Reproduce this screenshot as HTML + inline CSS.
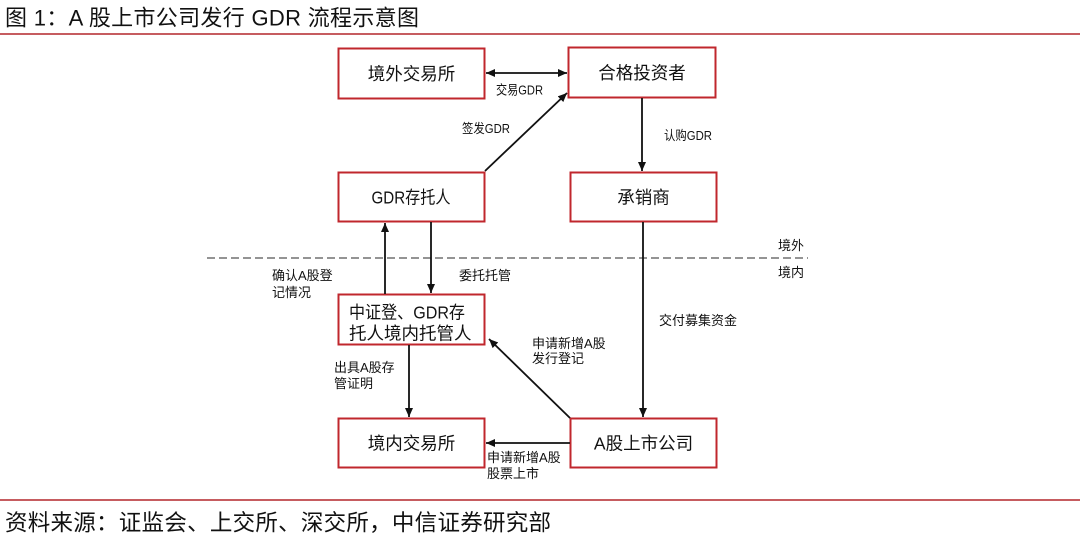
<!DOCTYPE html>
<html>
<head>
<meta charset="utf-8">
<style>
  html,body{margin:0;padding:0;background:#fff;}
  svg{display:block;}
  text{font-family:"Liberation Sans","Noto Sans CJK SC",sans-serif;fill:#111;}
</style>
</head>
<body>
<svg width="1080" height="542" viewBox="0 0 1080 542" xmlns="http://www.w3.org/2000/svg">
  <defs>
    <marker id="ah" markerUnits="userSpaceOnUse" markerWidth="10" markerHeight="8" refX="9" refY="4" orient="auto">
      <path d="M0,0 L9,4 L0,8 z" fill="#111"/>
    </marker>
    <marker id="ahs" markerUnits="userSpaceOnUse" markerWidth="10" markerHeight="8" refX="9" refY="4" orient="auto-start-reverse">
      <path d="M0,0 L9,4 L0,8 z" fill="#111"/>
    </marker>
  </defs>

  <!-- Title -->
  <text x="5" y="25.5" font-size="22" textLength="414" lengthAdjust="spacing">图 1：A 股上市公司发行 GDR 流程示意图</text>
  <line x1="0" y1="34" x2="1080" y2="34" stroke="#b3262c" stroke-width="1.6"/>

  <!-- Dashed border line -->
  <line x1="207" y1="258" x2="808" y2="258" stroke="#555" stroke-width="1.3" stroke-dasharray="8,4"/>
  <text x="778" y="250" font-size="13">境外</text>
  <text x="778" y="277" font-size="13">境内</text>

  <!-- Boxes -->
  <g fill="#fff" stroke="#c0272d" stroke-width="2">
    <rect x="338.5" y="48.5" width="146" height="50"/>
    <rect x="568.5" y="47.5" width="147" height="50"/>
    <rect x="338.5" y="172.5" width="146" height="49"/>
    <rect x="570.5" y="172.5" width="146" height="49"/>
    <rect x="338.5" y="294.5" width="146" height="50"/>
    <rect x="338.5" y="418.5" width="146" height="49"/>
    <rect x="570.5" y="418.5" width="146" height="49"/>
  </g>

  <!-- Box labels -->
  <g font-size="17.5" text-anchor="middle">
    <text x="411.5" y="80">境外交易所</text>
    <text x="642" y="79">合格投资者</text>
    <text x="411" y="203.5" textLength="79" lengthAdjust="spacingAndGlyphs">GDR存托人</text>
    <text x="643.5" y="203.5">承销商</text>
    <text x="411.5" y="449.5">境内交易所</text>
    <text x="643.5" y="449.5">A股上市公司</text>
  </g>
  <text x="349" y="318.5" font-size="17.5" textLength="116" lengthAdjust="spacingAndGlyphs">中证登、GDR存</text>
  <text x="349" y="339.5" font-size="17.5">托人境内托管人</text>

  <!-- Connectors -->
  <g stroke="#111" stroke-width="1.8" fill="none">
    <line x1="486" y1="73" x2="567" y2="73" marker-start="url(#ahs)" marker-end="url(#ah)"/>
    <line x1="485" y1="171" x2="567" y2="93" marker-end="url(#ah)"/>
    <line x1="642" y1="98" x2="642" y2="171" marker-end="url(#ah)"/>
    <line x1="643" y1="222" x2="643" y2="417" marker-end="url(#ah)"/>
    <line x1="385" y1="294" x2="385" y2="223" marker-end="url(#ah)"/>
    <line x1="431" y1="222" x2="431" y2="293" marker-end="url(#ah)"/>
    <line x1="409" y1="345" x2="409" y2="417" marker-end="url(#ah)"/>
    <line x1="570" y1="418" x2="489" y2="339" marker-end="url(#ah)"/>
    <line x1="570" y1="443" x2="486" y2="443" marker-end="url(#ah)"/>
  </g>

  <!-- Connector labels -->
  <g font-size="13">
    <text x="496" y="94.5" textLength="47" lengthAdjust="spacingAndGlyphs">交易GDR</text>
    <text x="462" y="133" textLength="48" lengthAdjust="spacingAndGlyphs">签发GDR</text>
    <text x="664" y="140" textLength="48" lengthAdjust="spacingAndGlyphs">认购GDR</text>
    <text x="659" y="325">交付募集资金</text>
    <text x="459" y="280">委托托管</text>
    <text x="272" y="280">确认A股登</text>
    <text x="272" y="297">记情况</text>
    <text x="334" y="372">出具A股存</text>
    <text x="334" y="388">管证明</text>
    <text x="532" y="348">申请新增A股</text>
    <text x="532" y="363">发行登记</text>
    <text x="487" y="462">申请新增A股</text>
    <text x="487" y="478">股票上市</text>
  </g>

  <!-- Source -->
  <line x1="0" y1="500" x2="1080" y2="500" stroke="#b3262c" stroke-width="1.6"/>
  <text x="5" y="530.5" font-size="22.5" textLength="546" lengthAdjust="spacing">资料来源：证监会、上交所、深交所，中信证券研究部</text>
</svg>
</body>
</html>
